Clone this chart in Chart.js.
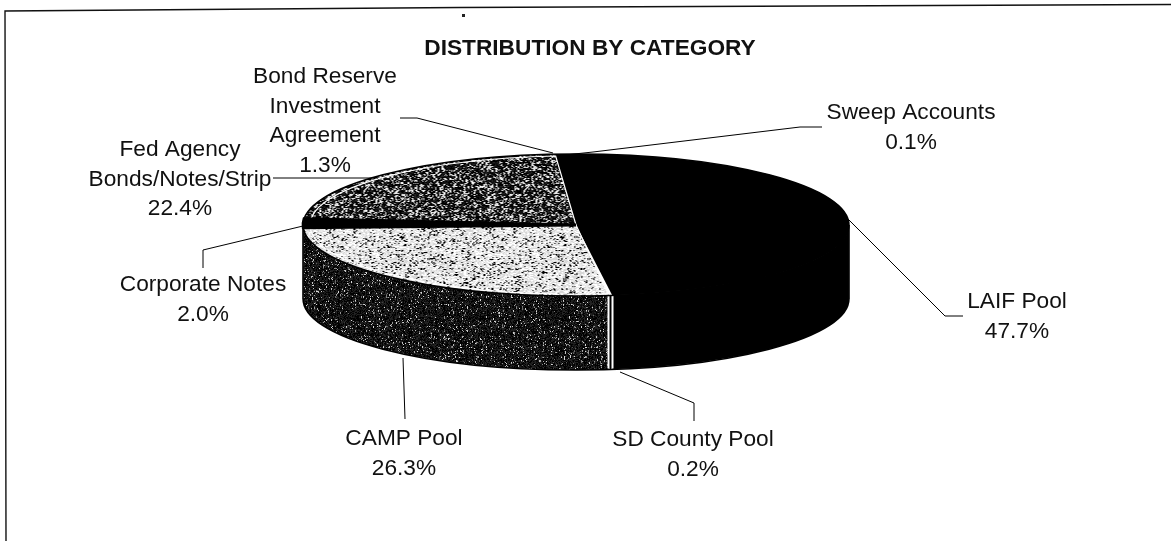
<!DOCTYPE html>
<html><head><meta charset="utf-8">
<style>html,body{margin:0;padding:0;background:#fff}canvas{display:block}</style>
<script src="https://cdn.jsdelivr.net/npm/chart.js@4"></script>
</head><body><canvas id="c" width="1171" height="542"></canvas>
<script>
const categories = ['Sweep Accounts','LAIF Pool','SD County Pool','CAMP Pool','Corporate Notes','Fed Agency Bonds/Notes/Strip','Bond Reserve Investment Agreement'];
const values = [0.1,47.7,0.2,26.3,2.0,22.4,1.3];
const labelLines = [['Sweep Accounts','0.1%'],['LAIF Pool','47.7%'],['SD County Pool','0.2%'],['CAMP Pool','26.3%'],['Corporate Notes','2.0%'],['Fed Agency','Bonds/Notes/Strip','22.4%'],['Bond Reserve','Investment','Agreement','1.3%']];
const labelAnchors = [[911,113],[1017,302],[693,440],[404,439],[203,285],[180,150],[325,77]];
const leaders = [
 [[822,127],[800,127],[593,152],[565,155]],
 [[963,316],[945,316],[848,219]],
 [[694,421],[694,403],[620,372]],
 [[405,419],[403,358]],
 [[203,268],[203,250],[303,226]],
 [[273,178],[378,178]],
 [[400,118],[417,118],[553,153]]
];
const titleText = 'DISTRIBUTION BY CATEGORY';
const rotationDeg = 0.3;
const pieCx = 576, pieCy = 225, rx = 273, ry = 71, wallH = 74;
const sx = rx / ry;

function speckle(dark){
  const n=160, cv=document.createElement('canvas'); cv.width=cv.height=n;
  const g=cv.getContext('2d'); const d=g.createImageData(n,n);
  for(let y=0;y<n;y++)for(let x=0;x<n;x++){
    const h=Math.abs(Math.sin(x*12.9898+y*78.233+dark*37.7)*43758.5453)%1;
    const h2=Math.abs(Math.sin((x>>1)*4.1+(y>>1)*9.7+dark*11.3)*24634.6345)%1;
    const v=(h*0.45+h2*0.55)<dark?(h<0.5?0:35):(h<0.5?255:215);
    const i=(y*n+x)*4; d.data[i]=d.data[i+1]=d.data[i+2]=v; d.data[i+3]=255;
  }
  g.putImageData(d,0,0);
  return cv;
}
const mainCtx=document.getElementById('c').getContext('2d');
function patt(dark){
  const p=mainCtx.createPattern(speckle(dark),'repeat');
  p.setTransform(new DOMMatrix().scale(1/sx,1));
  return p;
}
const campTop=patt(0.26), fedTop=patt(0.62), campWall=patt(0.82);
const sliceFills=['#000','#000','#fff',campTop,'#000',fedTop,'#000'];
const wallFills=['#000','#000','#fff',campWall,'#000','#000','#000'];

function applySquash(ctx,a){
  ctx.translate(pieCx,pieCy); ctx.scale(sx,1); ctx.translate(-a.x,-a.y);
}
const pie3d={id:'pie3d',
  beforeDatasetsDraw(chart){
    const ctx=chart.ctx, arcs=chart.getDatasetMeta(0).data;
    const a=arcs[0];
    // solid underlay so neighbouring black slices show no seams
    ctx.save(); applySquash(ctx,a); ctx.fillStyle='#000';
    ctx.beginPath(); ctx.arc(a.x,a.y,a.outerRadius,0,Math.PI*2); ctx.fill();
    ctx.restore();
    arcs.forEach((b,i)=>{
      const s=Math.max(b.startAngle,0), e=Math.min(b.endAngle,Math.PI);
      if(e<=s) return;
      ctx.save(); ctx.beginPath(); ctx.save(); applySquash(ctx,b);
      ctx.arc(b.x,b.y,b.outerRadius,s,e);
      ctx.arc(b.x,b.y+wallH,b.outerRadius,e,s,true);
      ctx.closePath(); ctx.restore();
      ctx.fillStyle=wallFills[i]; ctx.fill();
      ctx.restore();
    });
    // wall outline
    ctx.save(); ctx.beginPath(); ctx.save(); applySquash(ctx,a);
    ctx.arc(a.x,a.y+wallH,a.outerRadius,0,Math.PI);
    ctx.restore(); ctx.strokeStyle='#000'; ctx.lineWidth=1.6; ctx.stroke();
    ctx.beginPath();
    ctx.moveTo(pieCx-rx,pieCy); ctx.lineTo(pieCx-rx,pieCy+wallH);
    ctx.moveTo(pieCx+rx,pieCy); ctx.lineTo(pieCx+rx,pieCy+wallH); ctx.stroke();
    // thin SD County wall: white strip with a dark centre line
    const c=arcs[2], mid=(c.startAngle+c.endAngle)/2;
    const xm=pieCx+rx*Math.cos(mid), yTop=pieCy+ry*Math.sin(mid);
    ctx.strokeStyle='#fff'; ctx.lineWidth=6;
    ctx.beginPath(); ctx.moveTo(xm,yTop); ctx.lineTo(xm,yTop+wallH-1); ctx.stroke();
    ctx.strokeStyle='#000'; ctx.lineWidth=2;
    ctx.beginPath(); ctx.moveTo(xm,yTop); ctx.lineTo(xm,yTop+wallH); ctx.stroke();
    ctx.restore();
    ctx.save(); applySquash(ctx,a);
  },
  afterDatasetsDraw(chart){
    const ctx=chart.ctx, arcs=chart.getDatasetMeta(0).data;
    ctx.restore();
    const a0=arcs[0];
    // white rim on the patterned slices
    [3,5].forEach(i=>{
      const a=arcs[i];
      ctx.save(); ctx.beginPath(); ctx.save(); applySquash(ctx,a);
      ctx.moveTo(a.x,a.y);
      ctx.arc(a.x,a.y,a.outerRadius*0.975,a.startAngle,a.endAngle);
      ctx.closePath(); ctx.restore();
      ctx.strokeStyle='#fff'; ctx.lineWidth=1.2; ctx.stroke(); ctx.restore();
    });
    // thick Corporate Notes band
    const k=arcs[4];
    ctx.save(); ctx.beginPath(); ctx.save(); applySquash(ctx,k);
    ctx.moveTo(k.x,k.y); ctx.arc(k.x,k.y,k.outerRadius,k.startAngle,k.endAngle); ctx.closePath();
    ctx.restore(); ctx.fillStyle='#000'; ctx.fill(); ctx.strokeStyle='#000'; ctx.lineWidth=3; ctx.stroke(); ctx.restore();
    // outer edge
    ctx.save(); ctx.beginPath(); ctx.save(); applySquash(ctx,a0);
    ctx.arc(a0.x,a0.y,a0.outerRadius,0,Math.PI*2);
    ctx.restore(); ctx.strokeStyle='#000'; ctx.lineWidth=1.6; ctx.stroke(); ctx.restore();
    // frame
    ctx.save(); ctx.strokeStyle='#111'; ctx.lineWidth=1.4;
    ctx.beginPath(); ctx.moveTo(6,541); ctx.lineTo(5,11); ctx.lineTo(460,7.5); ctx.lineTo(1171,4.5); ctx.stroke();
    ctx.fillStyle='#222'; ctx.fillRect(462,14,3,3);
    // leaders
    ctx.strokeStyle='#000'; ctx.lineWidth=1;
    leaders.forEach(l=>{ctx.beginPath(); l.forEach((p,i)=>i?ctx.lineTo(p[0],p[1]):ctx.moveTo(p[0],p[1])); ctx.stroke();});
    // labels
    ctx.fillStyle='#111'; ctx.font='22.7px "Liberation Sans"'; ctx.textAlign='center'; ctx.textBaseline='middle';
    labelLines.forEach((ls,i)=>ls.forEach((t,j)=>ctx.fillText(t,labelAnchors[i][0],labelAnchors[i][1]+j*29.5)));
    ctx.restore();
  }
};
new Chart(mainCtx,{
  type:'pie',
  data:{labels:categories,datasets:[{data:values,backgroundColor:sliceFills,borderWidth:0,hoverOffset:0}]},
  options:{
    responsive:false,animation:false,rotation:rotationDeg,
    layout:{padding:{top:35,bottom:246,left:340,right:331}},
    plugins:{
      legend:{display:false},tooltip:{enabled:false},
      title:{display:true,text:titleText,color:'#111',font:{family:'"Liberation Sans"',size:22.7,weight:'bold'},padding:{top:0,bottom:91.8}}
    }
  },
  plugins:[pie3d]
});
</script></body></html>
